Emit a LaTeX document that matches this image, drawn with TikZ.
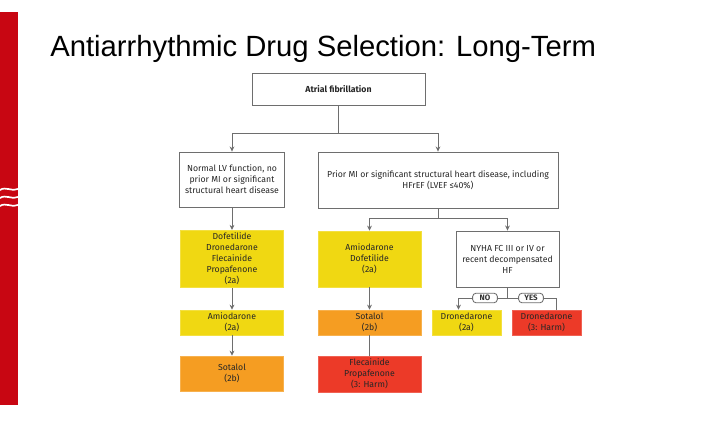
\documentclass[tikz,border=0pt]{standalone}
\usepackage{fontspec}
\setmainfont{Fira Sans}
\newfontfamily\titlefont{Liberation Sans}
\usepackage{tikz}
\usetikzlibrary{positioning, arrows.meta, calc}
\definecolor{slidered}{RGB}{200,6,18}
\definecolor{recyellow}{RGB}{240,216,18}
\definecolor{recorange}{RGB}{245,157,34}
\definecolor{harmred}{RGB}{236,58,40}
\definecolor{linegray}{RGB}{110,110,110}

\begin{document}
\begin{tikzpicture}[
  x=0.025cm, y=-0.025cm,
  >={Stealth[length=3.6pt,width=3.4pt]},
  boxtxt/.style={font=\fontsize{6.2}{7.8}\selectfont, text=black!85, align=center, inner sep=2pt},
  decision/.style={boxtxt, draw=linegray, line width=0.6pt, fill=white},
  class2a/.style={boxtxt, fill=recyellow, draw=recyellow!80!white},
  class2b/.style={boxtxt, fill=recorange, draw=recorange!80!white},
  harm/.style={boxtxt, fill=harmred, draw=harmred!80!white},
  link/.style={draw=linegray, line width=0.6pt},
  answer/.style={draw=linegray, line width=0.6pt, fill=white, rounded corners=2.5pt,
    font=\fontsize{5.6}{6}\selectfont\bfseries, text=black!80,
    minimum width=0.62cm, minimum height=0.24cm, inner sep=1pt},
]

% ---- page ----
\useasboundingbox (0,0) rectangle (725,439);
\fill[white] (0,0) rectangle (725,439);

% slide bar on the left, with its white waves
\fill[slidered] (0,12) rectangle (18,405);
\foreach \wy in {190,198,206}
  \draw[white, line width=1.2pt] (0,\wy) .. controls (6,\wy-4) and (12,\wy+2) .. (18,\wy-1);

\node[anchor=base west, inner sep=0pt, font=\titlefont\fontsize{20.8}{24}\selectfont]
  (title) at (50,57) {Antiarrhythmic Drug Selection: Long-Term};

% =====================================================
% TOP OF THE TREE
% =====================================================
\node[decision, minimum width=4.325cm, minimum height=0.8cm] (af) at (338.5,89)
  {\bfseries Atrial fibrillation};

\node[decision, minimum width=2.625cm, minimum height=1.375cm] (normlv) at (232,179.5)
  {Normal LV function, no\\prior MI or significant\\structural heart disease};

\node[decision, minimum width=6.0cm, minimum height=1.4cm] (priormi) at (438,180)
  {Prior MI or significant structural heart disease, including\\HFrEF (LVEF ≤40\%)};

% =====================================================
% LEFT COLUMN (normal LV function)
% =====================================================
\node[class2a, minimum width=2.575cm, minimum height=1.4cm] (lvfirst) at (232,259)
  {Dofetilide\\Dronedarone\\Flecainide\\Propafenone\\(2a)};
\node[class2a, minimum width=2.575cm, minimum height=0.625cm] (lvsecond) at (232,322.5)
  {Amiodarone\\(2a)};
\node[class2b, minimum width=2.575cm, minimum height=0.875cm] (lvthird) at (232,373.5)
  {Sotalol\\(2b)};

% =====================================================
% MIDDLE COLUMN (structural heart disease)
% =====================================================
\node[class2a, minimum width=2.575cm, minimum height=1.4cm] (mifirst) at (369.5,259)
  {Amiodarone\\Dofetilide\\(2a)};
\node[class2b, minimum width=2.575cm, minimum height=0.625cm] (misecond) at (369.5,322.5)
  {Sotalol\\(2b)};
\node[harm, minimum width=2.575cm, minimum height=0.85cm] (mithird) at (369.5,374)
  {Flecainide\\Propafenone\\(3: Harm)};

% =====================================================
% RIGHT COLUMN (heart failure)
% =====================================================
\node[decision, minimum width=2.575cm, minimum height=1.4cm] (nyha) at (507.5,259)
  {NYHA FC III or IV or\\recent decompensated\\HF};
\node[class2a, minimum width=1.725cm, minimum height=0.625cm] (dronok) at (466.5,322.5)
  {Dronedarone\\(2a)};
\node[harm, minimum width=1.725cm, minimum height=0.625cm] (dronharm) at (546.5,322.5)
  {Dronedarone\\(3: Harm)};

% =====================================================
% CONNECTORS
% =====================================================
\coordinate (afsplit) at (338.5,133);
\coordinate (misplit) at (438,218);
\coordinate (hfsplit) at (507.5,298);

\draw[link] (af.south) -- (afsplit);
\draw[link, ->] (afsplit) -| (normlv.north);
\draw[link, ->] (afsplit) -| (priormi.north);

\draw[link, ->] (normlv.south) -- (lvfirst.north);
\draw[link, ->] (lvfirst.south) -- (lvsecond.north);
\draw[link, ->] (lvsecond.south) -- (lvthird.north);

\draw[link] (priormi.south) -- (misplit);
\draw[link, ->] (misplit) -| (mifirst.north);
\draw[link, ->] (misplit) -| (nyha.north);

\draw[link, ->] (mifirst.south) -- (misecond.north);
\draw[link] (misecond.south) -- (mithird.north);

\draw[link] (nyha.south) -- (hfsplit);
\draw[link, ->] (hfsplit) -| ($(dronok.north)+(-8,0)$);
\draw[link] (hfsplit) -| ($(dronharm.north)+(10,0)$);

% yes / no tags sitting on the split
\node[answer] (notag) at (485,298) {NO};
\node[answer] (yestag) at (531,298) {YES};

\end{tikzpicture}
\end{document}
